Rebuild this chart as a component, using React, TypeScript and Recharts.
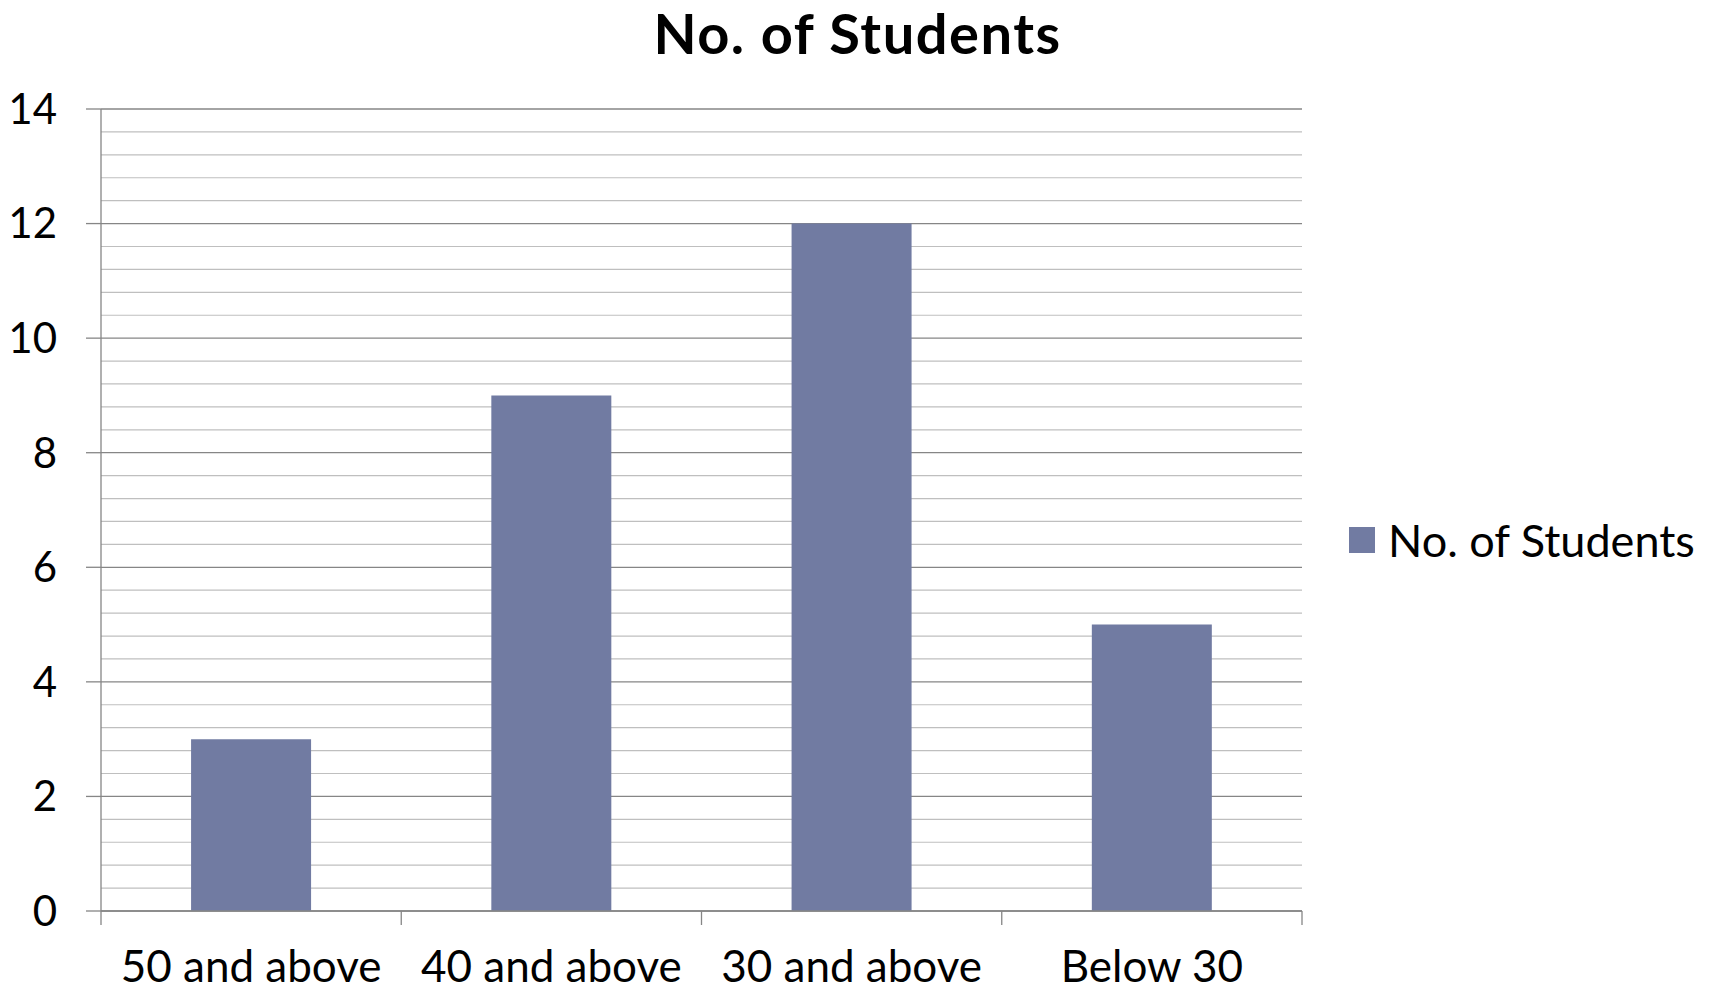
import React from 'react';
import { BarChart, Bar, XAxis, YAxis, CartesianGrid, Legend } from 'recharts';

const categories = ['50 and above', '40 and above', '30 and above', 'Below 30'];
const students = [3, 9, 12, 5];
const majorTicks = [0, 2, 4, 6, 8, 10, 12, 14];
const minorStep = 0.4;
const seriesName = 'No. of Students';
const title = 'No. of Students';

const data = categories.map((c, i) => ({ cat: c, value: students[i] }));
const minorTicks: number[] = [];
for (let i = 0; i < majorTicks.length - 1; i++) {
  for (let k = 1; k < 5; k++) minorTicks.push(+(majorTicks[i] + k * minorStep).toFixed(1));
}

const FONT = 'Lato, "Open Sans", sans-serif';
const BAR = '#717ba2';
const MAJOR = '#868686';
const MINOR = '#bfbfbf';
const X_TICK_MARGIN = 40;
const X_TICK_LEN = 14;

const LegendContent = () => (
  <div style={{ display: 'flex', alignItems: 'center', fontFamily: FONT, fontSize: 45, lineHeight: '54px', color: '#000', whiteSpace: 'nowrap' }}>
    <span style={{ display: 'inline-block', width: 26, height: 26, background: BAR, marginRight: 13 }} />
    <span>{seriesName}</span>
  </div>
);

const minorGen = (props: any) => {
  try {
    const s = props?.yAxis?.scale;
    const f =
      typeof s === 'function'
        ? (v: number) => s(v)
        : s && typeof s.map === 'function'
        ? (v: number) => s.map(v)
        : s && typeof s.scale === 'function'
        ? (v: number) => s.scale(v)
        : null;
    if (f) {
      const r = minorTicks.map((v) => f(v));
      if (r.every((n) => Number.isFinite(n))) return r;
    }
  } catch (e) {
    /* fall through */
  }
  const off = props?.offset;
  if (!off) return [];
  const lo = majorTicks[0];
  const hi = majorTicks[majorTicks.length - 1];
  return minorTicks.map((v) => off.top + (off.height * (hi - v)) / (hi - lo));
};

const CategoryTick = (props: any) => {
  const { x, y, payload, index, visibleTicksCount, width } = props;
  const count = visibleTicksCount || categories.length;
  const half =
    payload && typeof payload.offset === 'number' && payload.offset > 0
      ? payload.offset
      : (width || 0) / count / 2;
  const axisY = y - X_TICK_MARGIN;
  return (
    <g>
      <line x1={x - half} x2={x - half} y1={axisY} y2={axisY + X_TICK_LEN} stroke={MAJOR} strokeWidth={1.3} />
      {index === count - 1 && (
        <line x1={x + half} x2={x + half} y1={axisY} y2={axisY + X_TICK_LEN} stroke={MAJOR} strokeWidth={1.3} />
      )}
      <text x={x} y={y} dy="0.71em" textAnchor="middle" fill="#000" fontSize={44} fontFamily={FONT}>
        {payload?.value}
      </text>
    </g>
  );
};

export default function App() {
  return (
    <div style={{ position: 'absolute', left: 0, top: 0, width: 1715, height: 991, background: '#fff' }}>
      <div style={{ position: 'absolute', left: 0, top: -1, width: 1715, textAlign: 'center', fontFamily: FONT, fontWeight: 700, fontSize: 56, letterSpacing: 1.5, lineHeight: '68px', color: '#000' }}>
        {title}
      </div>
      <BarChart width={1715} height={991} data={data} margin={{ top: 109, right: 413, left: 0, bottom: 0 }} barCategoryGap="30%">
        <CartesianGrid vertical={false} horizontalCoordinatesGenerator={minorGen} stroke={MINOR} strokeWidth={1.2} />
        <CartesianGrid vertical={false} stroke={MAJOR} strokeWidth={1.3} />
        <XAxis
          dataKey="cat"
          height={80}
          tickSize={0}
          tickMargin={X_TICK_MARGIN}
          tickLine={false}
          axisLine={{ stroke: MAJOR, strokeWidth: 1.3 }}
          tick={<CategoryTick />}
          interval={0}
        />
        <YAxis
          width={101}
          domain={[0, 14]}
          ticks={majorTicks}
          interval={0}
          tickSize={15}
          tickMargin={29}
          axisLine={{ stroke: MAJOR, strokeWidth: 1.3 }}
          tickLine={{ stroke: MAJOR, strokeWidth: 1.3 }}
          tick={{ fill: '#000', fontSize: 42, fontFamily: FONT }}
        />
        <Legend
          layout="horizontal"
          align="center"
          verticalAlign="middle"
          content={<LegendContent />}
          wrapperStyle={{ left: 1349, top: 513, width: 'auto' }}
        />
        <Bar dataKey="value" name={seriesName} fill={BAR} isAnimationActive={false} />
      </BarChart>
    </div>
  );
}
